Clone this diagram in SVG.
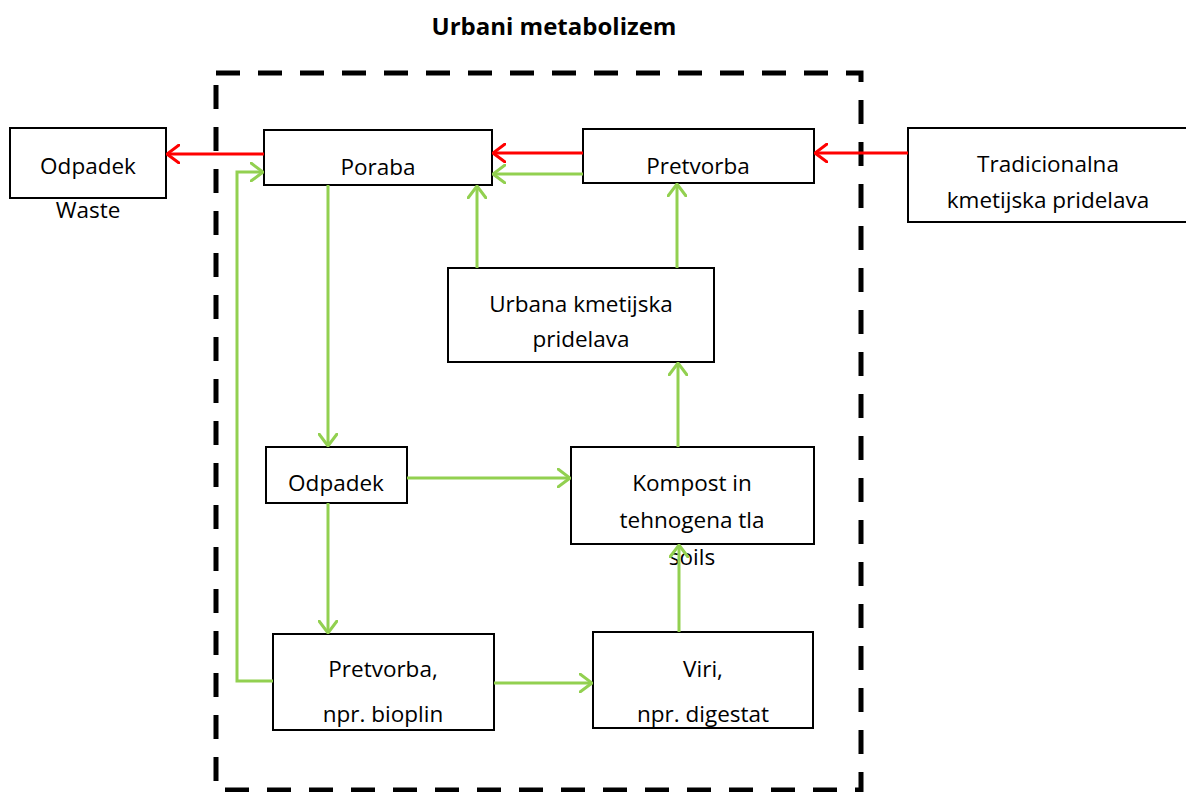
<svg xmlns="http://www.w3.org/2000/svg" width="1186" height="792" viewBox="0 0 1186 792">
  <style>
    .box { fill: #ffffff; stroke: #000000; stroke-width: 2; }
    .lbl { font-family: "Open Sans", "Liberation Sans", sans-serif; font-size: 22.5px; fill: #000000; text-anchor: middle; }
    .title { font-family: "Open Sans", "Liberation Sans", sans-serif; font-size: 24px; font-weight: bold; fill: #000000; text-anchor: middle; }
    .g { fill: none; stroke: #92D050; stroke-width: 3; }
    .r { fill: none; stroke: #FF0000; stroke-width: 3; }
    .frame { fill: none; stroke: #000000; stroke-width: 5; stroke-dasharray: 24 18; }
  </style>
  <defs>
    <marker id="ag" viewBox="0 0 14 20" refX="13" refY="10" markerWidth="14" markerHeight="20" markerUnits="userSpaceOnUse" orient="auto">
      <path d="M1,1 L13,10 L1,19" fill="none" stroke="#92D050" stroke-width="3" stroke-linecap="round"/>
    </marker>
    <marker id="ar" viewBox="0 0 14 20" refX="13" refY="10" markerWidth="14" markerHeight="20" markerUnits="userSpaceOnUse" orient="auto">
      <path d="M1,1 L13,10 L1,19" fill="none" stroke="#FF0000" stroke-width="3" stroke-linecap="round"/>
    </marker>
  </defs>
  <rect width="1186" height="792" fill="#ffffff"/>

  <text class="title" x="554" y="35">Urbani metabolizem</text>

  <!-- system boundary -->
  <rect class="frame" x="216" y="73" width="645" height="717"/>

  <g id="odpadek-out">
    <rect class="box" x="10" y="128" width="156" height="70"/>
    <text class="lbl" x="88" y="174">Odpadek</text>
    <text class="lbl" x="88" y="218">Waste</text>
  </g>
  <g id="poraba">
    <rect class="box" x="264" y="130" width="228" height="55"/>
    <text class="lbl" x="378" y="175">Poraba</text>
  </g>
  <g id="pretvorba-top">
    <rect class="box" x="583" y="129" width="231" height="54"/>
    <text class="lbl" x="698" y="174">Pretvorba</text>
  </g>
  <g id="tradicionalna">
    <rect class="box" x="908" y="128" width="290" height="94"/>
    <text class="lbl" x="1048" y="172">Tradicionalna</text>
    <text class="lbl" x="1048" y="208">kmetijska pridelava</text>
  </g>
  <g id="urbana">
    <rect class="box" x="448" y="268" width="266" height="94"/>
    <text class="lbl" x="581" y="312">Urbana kmetijska</text>
    <text class="lbl" x="581" y="347">pridelava</text>
  </g>
  <g id="odpadek-mid">
    <rect class="box" x="266" y="447" width="141" height="56"/>
    <text class="lbl" x="336" y="491">Odpadek</text>
  </g>
  <g id="kompost">
    <rect class="box" x="571" y="447" width="243" height="97"/>
    <text class="lbl" x="692" y="491">Kompost in</text>
    <text class="lbl" x="692" y="528">tehnogena tla</text>
    <text class="lbl" x="692" y="565">soils</text>
  </g>
  <g id="pretvorba-bottom">
    <rect class="box" x="273" y="634" width="221" height="96"/>
    <text class="lbl" x="383" y="677">Pretvorba,</text>
    <text class="lbl" x="383" y="722">npr. bioplin</text>
  </g>
  <g id="viri">
    <rect class="box" x="593" y="632" width="220" height="96"/>
    <text class="lbl" x="703" y="677">Viri,</text>
    <text class="lbl" x="703" y="722">npr. digestat</text>
  </g>

  <g id="connectors">
    <!-- red flows -->
    <line class="r" x1="264" y1="154" x2="167" y2="154" marker-end="url(#ar)"/>
    <line class="r" x1="583" y1="153" x2="493" y2="153" marker-end="url(#ar)"/>
    <line class="r" x1="908" y1="153" x2="815" y2="153" marker-end="url(#ar)"/>
    <!-- green flows -->
    <line class="g" x1="583" y1="174" x2="493" y2="174" marker-end="url(#ag)"/>
    <line class="g" x1="328" y1="185" x2="328" y2="446" marker-end="url(#ag)"/>
    <line class="g" x1="328" y1="503" x2="328" y2="633" marker-end="url(#ag)"/>
    <line class="g" x1="407" y1="478" x2="570" y2="478" marker-end="url(#ag)"/>
    <line class="g" x1="494" y1="683" x2="592" y2="683" marker-end="url(#ag)"/>
    <line class="g" x1="679" y1="632" x2="679" y2="545" marker-end="url(#ag)"/>
    <line class="g" x1="678" y1="447" x2="678" y2="363" marker-end="url(#ag)"/>
    <line class="g" x1="477" y1="268" x2="477" y2="186" marker-end="url(#ag)"/>
    <line class="g" x1="677" y1="268" x2="677" y2="184" marker-end="url(#ag)"/>
    <polyline class="g" points="273,681 237,681 237,172 263,172" marker-end="url(#ag)"/>
  </g>
</svg>
